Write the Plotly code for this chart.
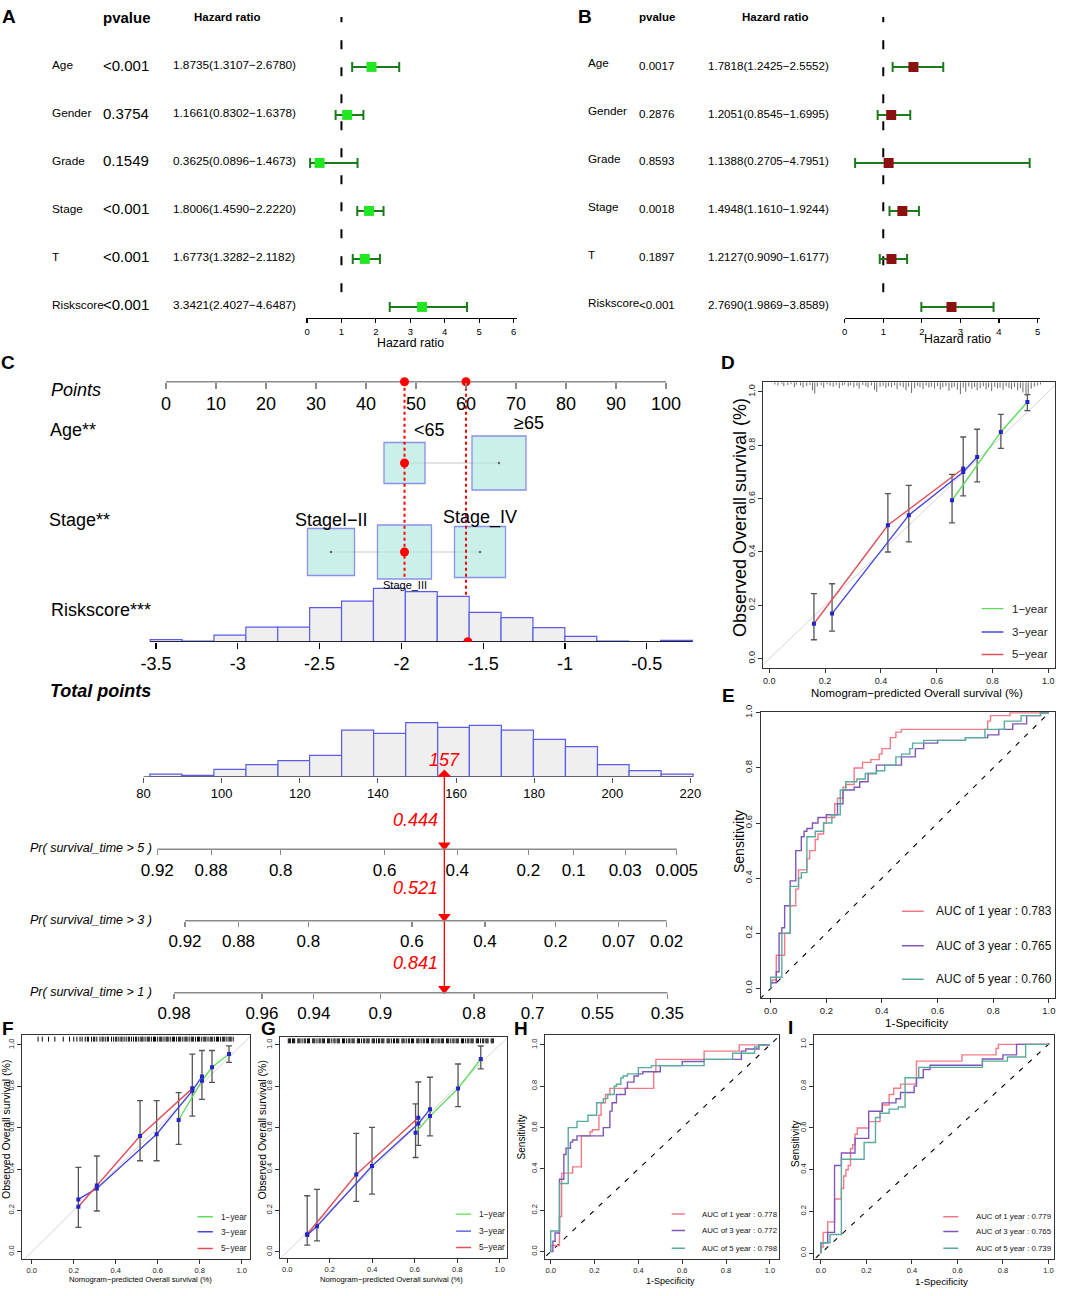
import plotly.graph_objects as go

W, H = 1065, 1296
REG = "Liberation Sans, Arial, Helvetica, sans-serif"

# ---------------- A / B : Cox regression ----------------
cox_vars = ["Age", "Gender", "Grade", "Stage", "T", "Riskscore"]
uni_p = ["<0.001", "0.3754", "0.1549", "<0.001", "<0.001", "<0.001"]
uni_hr = [1.8735, 1.1661, 0.3625, 1.8006, 1.6773, 3.3421]
uni_lo = [1.3107, 0.8302, 0.0896, 1.4590, 1.3282, 2.4027]
uni_hi = [2.6780, 1.6378, 1.4673, 2.2220, 2.1182, 4.6487]
multi_p = ["0.0017", "0.2876", "0.8593", "0.0018", "0.1897", "<0.001"]
multi_hr = [1.7818, 1.2051, 1.1388, 1.4948, 1.2127, 2.7690]
multi_lo = [1.2425, 0.8545, 0.2705, 1.1610, 0.9090, 1.9869]
multi_hi = [2.5552, 1.6995, 4.7951, 1.9244, 1.6177, 3.8589]

# ---------------- C : nomogram ----------------
points_ticks = [0, 10, 20, 30, 40, 50, 60, 70, 80, 90, 100]
age_levels = ["<65", "≥65"]
age_points = [47.7, 66.6]
age_box = [41, 54]
stage_levels = ["StageI−II", "Stage_III", "Stage_IV"]
stage_points = [33.0, 47.7, 62.8]
stage_box = [47, 54, 51]
risk_ticks = [-3.5, -3, -2.5, -2, -1.5, -1, -0.5]
risk_tick_text = ["-3.5", "-3", "-2.5", "-2", "-1.5", "-1", "-0.5"]
risk_edges = [-3.536, -3.341, -3.146, -2.951, -2.756, -2.561, -2.366, -2.171, -1.976,
              -1.781, -1.586, -1.391, -1.196, -1.001, -0.806, -0.611, -0.416, -0.221]
risk_counts = [3, 1, 10, 22, 22, 51, 61, 80, 75, 68, 44, 36, 21, 8, 1, 0, 2]
total_ticks = [80, 100, 120, 140, 160, 180, 200, 220]
total_edges = [81.6, 89.8, 98.0, 106.2, 114.4, 122.5, 130.7, 138.9, 147.1,
               155.3, 163.4, 171.6, 179.8, 188.0, 196.2, 204.3, 212.5, 220.7]
total_counts = [4, 2, 11, 18, 24, 32, 70, 65, 81, 74, 77, 70, 56, 45, 18, 9, 4]
pr5_labels = ["0.92", "0.88", "0.8", "0.6", "0.4", "0.2", "0.1", "0.03", "0.005"]
pr5_points = [83.5, 97.3, 115.1, 141.7, 160.3, 178.5, 190.1, 203.3, 216.5]
pr3_labels = ["0.92", "0.88", "0.8", "0.6", "0.4", "0.2", "0.07", "0.02"]
pr3_points = [90.6, 104.3, 122.2, 148.7, 167.4, 185.5, 201.6, 213.9]
pr1_labels = ["0.98", "0.96", "0.94", "0.9", "0.8", "0.7", "0.55", "0.35"]
pr1_points = [87.8, 110.3, 123.6, 140.6, 164.6, 179.6, 196.2, 214.1]
pr_titles = ["Pr( survival_time > 5 )", "Pr( survival_time > 3 )", "Pr( survival_time > 1 )"]
sel_age, sel_stage = 0, 1
sel_risk = -1.594
sel_risk_points = 60
sel_total = 157
sel_probs = ["0.444", "0.521", "0.841"]

# ---------------- D / F / G : calibration ----------------
d_err_x = [0.16, 0.225, 0.425, 0.50, 0.655, 0.695, 0.745, 0.83, 0.925]
d_err_lo = [0.071, 0.103, 0.40, 0.438, 0.509, 0.61, 0.663, 0.788, 0.93]
d_err_hi = [0.244, 0.281, 0.619, 0.65, 0.691, 0.831, 0.86, 0.916, 0.99]
d_1y_x = [0.655, 0.83, 0.925]
d_1y_y = [0.594, 0.85, 0.962]
d_3y_x = [0.225, 0.50, 0.695, 0.745]
d_3y_y = [0.169, 0.538, 0.70, 0.756]
d_5y_x = [0.16, 0.425, 0.695]
d_5y_y = [0.131, 0.50, 0.713]
d_rug_x = [0.02, 0.031, 0.045, 0.052, 0.066, 0.078, 0.09, 0.097, 0.112, 0.121,
           0.134, 0.146, 0.155, 0.163, 0.172, 0.186, 0.195, 0.207, 0.218, 0.229,
           0.24, 0.251, 0.262, 0.27, 0.283, 0.291, 0.303, 0.314, 0.322, 0.335,
           0.346, 0.354, 0.366, 0.377, 0.385, 0.397, 0.408, 0.418, 0.427, 0.438,
           0.449, 0.458, 0.469, 0.48, 0.49, 0.499, 0.51, 0.521, 0.531, 0.54,
           0.551, 0.562, 0.572, 0.581, 0.592, 0.603, 0.613, 0.622, 0.633, 0.644,
           0.654, 0.663, 0.674, 0.685, 0.695, 0.704, 0.715, 0.726, 0.736, 0.745,
           0.756, 0.767, 0.777, 0.786, 0.797, 0.808, 0.818, 0.827, 0.838, 0.849,
           0.859, 0.868, 0.879, 0.89, 0.9, 0.909, 0.92, 0.928, 0.939, 0.95,
           0.961, 0.972]
d_rug_len = [0.008, 0.012, 0.006, 0.015, 0.010, 0.007, 0.018, 0.009, 0.012, 0.020,
             0.014, 0.010, 0.030, 0.042, 0.016, 0.011, 0.020, 0.008, 0.013, 0.017,
             0.010, 0.022, 0.012, 0.009, 0.016, 0.011, 0.019, 0.013, 0.024, 0.010,
             0.015, 0.020, 0.012, 0.028, 0.036, 0.017, 0.013, 0.021, 0.015, 0.018,
             0.012, 0.026, 0.014, 0.019, 0.030, 0.016, 0.040, 0.022, 0.013, 0.018,
             0.025, 0.012, 0.020, 0.016, 0.023, 0.014, 0.027, 0.019, 0.015, 0.032,
             0.021, 0.017, 0.028, 0.044, 0.020, 0.035, 0.016, 0.024, 0.018, 0.030,
             0.022, 0.015, 0.026, 0.019, 0.033, 0.017, 0.023, 0.020, 0.028, 0.015,
             0.021, 0.025, 0.018, 0.030, 0.022, 0.038, 0.050, 0.046, 0.024, 0.016,
             0.012, 0.008]

f_err_x = [0.222, 0.31, 0.516, 0.595, 0.70, 0.765, 0.811, 0.859, 0.94]
f_err_lo = [0.118, 0.197, 0.44, 0.44, 0.519, 0.656, 0.737, 0.819, 0.916]
f_err_hi = [0.408, 0.463, 0.731, 0.731, 0.769, 0.956, 0.973, 0.973, 0.995]
f_1y_x = [0.70, 0.811, 0.859, 0.94]
f_1y_y = [0.637, 0.827, 0.892, 0.956]
f_3y_x = [0.222, 0.31, 0.595, 0.765, 0.811]
f_3y_y = [0.253, 0.306, 0.568, 0.779, 0.847]
f_5y_x = [0.222, 0.31, 0.516, 0.765]
f_5y_y = [0.218, 0.32, 0.56, 0.79]
f_rug_x = [0.03, 0.05, 0.08, 0.11, 0.15, 0.18, 0.2, 0.215, 0.23, 0.24, 0.255, 0.265, 0.27, 0.285,
           0.295, 0.3, 0.31, 0.325, 0.335, 0.34, 0.35, 0.36, 0.365, 0.38, 0.39, 0.4, 0.405, 0.415,
           0.425, 0.43, 0.44, 0.45, 0.46, 0.465, 0.475, 0.485, 0.495, 0.5, 0.51, 0.52, 0.525,
           0.53, 0.54, 0.55, 0.555, 0.56, 0.57, 0.58, 0.585, 0.59, 0.6, 0.61, 0.615, 0.62, 0.63,
           0.64, 0.645, 0.65, 0.66, 0.67, 0.675, 0.68, 0.69, 0.7, 0.705, 0.71, 0.72, 0.73, 0.735,
           0.74, 0.75, 0.76, 0.765, 0.77, 0.78, 0.79, 0.795, 0.8, 0.81, 0.82, 0.825, 0.83, 0.84,
           0.85, 0.855, 0.86, 0.87, 0.88, 0.885, 0.89, 0.9, 0.91, 0.915, 0.92, 0.93, 0.94, 0.945,
           0.95, 0.96]

g_err_x = [0.094, 0.14, 0.325, 0.399, 0.604, 0.617, 0.672, 0.804, 0.911]
g_err_lo = [0.032, 0.053, 0.244, 0.279, 0.456, 0.515, 0.56, 0.702, 0.884]
g_err_hi = [0.271, 0.302, 0.573, 0.602, 0.715, 0.821, 0.844, 0.908, 0.995]
g_1y_x = [0.604, 0.672, 0.804, 0.911]
g_1y_y = [0.576, 0.656, 0.789, 0.932]
g_3y_x = [0.094, 0.14, 0.399, 0.617, 0.672]
g_3y_y = [0.081, 0.124, 0.415, 0.62, 0.689]
g_5y_x = [0.094, 0.325, 0.617]
g_5y_y = [0.085, 0.374, 0.648]
g_rug_x = [0.005, 0.01, 0.015, 0.025, 0.03, 0.035, 0.05, 0.055, 0.06, 0.07, 0.08, 0.085, 0.095,
           0.1, 0.105, 0.12, 0.125, 0.13, 0.14, 0.15, 0.155, 0.165, 0.17, 0.175, 0.19, 0.195,
           0.2, 0.21, 0.22, 0.225, 0.235, 0.24, 0.245, 0.26, 0.265, 0.27, 0.28, 0.29, 0.295,
           0.305, 0.31, 0.315, 0.33, 0.335, 0.34, 0.35, 0.36, 0.365, 0.375, 0.38, 0.385, 0.4,
           0.405, 0.41, 0.42, 0.43, 0.435, 0.445, 0.45, 0.455, 0.47, 0.475, 0.48, 0.49, 0.5,
           0.505, 0.515, 0.52, 0.525, 0.54, 0.545, 0.55, 0.56, 0.57, 0.575, 0.585, 0.59, 0.595,
           0.61, 0.615, 0.62, 0.63, 0.64, 0.645, 0.655, 0.66, 0.665, 0.68, 0.685, 0.69, 0.7,
           0.71, 0.715, 0.725, 0.73, 0.735, 0.75, 0.755, 0.76, 0.77, 0.78, 0.785, 0.795, 0.8,
           0.805, 0.82, 0.825, 0.83, 0.84, 0.85, 0.855, 0.865, 0.87, 0.875, 0.89, 0.895, 0.9,
           0.91, 0.92, 0.925, 0.935, 0.94, 0.945, 0.96, 0.965, 0.97]

# ---------------- E / H / I : time-dependent ROC ----------------
e_1y_x = [0, 0.005, 0.02, 0.02, 0.03, 0.05, 0.05, 0.07, 0.07, 0.09, 0.1, 0.11, 0.13, 0.14, 0.16, 0.17, 0.19, 0.2,
          0.23, 0.24, 0.26, 0.27, 0.3, 0.3, 0.33, 0.36, 0.39, 0.4, 0.43, 0.45, 0.47, 0.52, 0.78, 0.79, 0.86, 1.0]
e_1y_y = [0, 0.02, 0.03, 0.08, 0.12, 0.12, 0.2, 0.2, 0.27, 0.3, 0.36, 0.43, 0.43, 0.47, 0.5, 0.54, 0.56, 0.6,
          0.62, 0.67, 0.69, 0.73, 0.74, 0.78, 0.8, 0.82, 0.83, 0.85, 0.87, 0.91, 0.93, 0.94, 0.94, 0.97, 0.99, 1.0]
e_3y_x = [0, 0.02, 0.03, 0.04, 0.05, 0.05, 0.07, 0.07, 0.09, 0.09, 0.1, 0.11, 0.12, 0.13, 0.15, 0.17, 0.2, 0.24,
          0.26, 0.27, 0.3, 0.32, 0.35, 0.38, 0.4, 0.47, 0.52, 0.55, 0.6, 0.7, 0.78, 0.82, 0.87, 0.92, 0.97, 1.0]
e_3y_y = [0, 0.02, 0.06, 0.2, 0.22, 0.3, 0.3, 0.39, 0.39, 0.43, 0.5, 0.5, 0.55, 0.57, 0.58, 0.6, 0.62, 0.63,
          0.67, 0.72, 0.72, 0.73, 0.75, 0.78, 0.81, 0.81, 0.84, 0.87, 0.89, 0.9, 0.91, 0.92, 0.94, 0.96, 0.99, 1.0]
e_5y_x = [0, 0.0, 0.04, 0.04, 0.05, 0.07, 0.07, 0.1, 0.11, 0.13, 0.13, 0.16, 0.19, 0.22, 0.25, 0.27, 0.31,
          0.34, 0.38, 0.41, 0.45, 0.47, 0.5, 0.51, 0.55, 0.6, 0.7, 0.77, 0.77, 0.84, 0.9, 0.97, 1.0]
e_5y_y = [0, 0.02, 0.04, 0.14, 0.2, 0.2, 0.37, 0.37, 0.4, 0.42, 0.53, 0.55, 0.57, 0.6, 0.63, 0.72, 0.75,
          0.76, 0.78, 0.79, 0.81, 0.84, 0.85, 0.87, 0.89, 0.9, 0.9, 0.91, 0.94, 0.94, 0.97, 0.99, 1.0]
e_auc = ["0.783", "0.765", "0.760"]

h_1y_x = [0, 0.02, 0.04, 0.04, 0.05, 0.05, 0.06, 0.1, 0.1, 0.14, 0.14, 0.16, 0.18, 0.19, 0.22, 0.23, 0.25,
          0.27, 0.3, 0.47, 0.48, 0.52, 0.7, 0.71, 0.86, 0.87, 1.0]
h_1y_y = [0, 0.03, 0.03, 0.13, 0.17, 0.35, 0.38, 0.38, 0.41, 0.41, 0.52, 0.56, 0.56, 0.58, 0.59, 0.66, 0.72,
          0.76, 0.79, 0.79, 0.87, 0.93, 0.93, 0.97, 0.97, 1.0, 1.0]
h_3y_x = [0, 0.01, 0.02, 0.02, 0.04, 0.04, 0.06, 0.07, 0.09, 0.1, 0.12, 0.2, 0.24, 0.25, 0.27, 0.28, 0.3, 0.3,
          0.34, 0.35, 0.38, 0.4, 0.42, 0.5, 0.6, 0.7, 0.87, 0.89, 0.95, 1.0]
h_3y_y = [0, 0, 0.05, 0.09, 0.09, 0.35, 0.35, 0.47, 0.5, 0.53, 0.54, 0.56, 0.56, 0.6, 0.6, 0.68, 0.72, 0.76,
          0.76, 0.79, 0.82, 0.85, 0.86, 0.87, 0.9, 0.92, 0.93, 0.97, 0.98, 1.0]
h_5y_x = [0, 0, 0.04, 0.04, 0.08, 0.08, 0.12, 0.17, 0.21, 0.21, 0.24, 0.26, 0.29, 0.3, 0.32, 0.33, 0.35, 0.4,
          0.46, 0.52, 0.7, 0.71, 0.83, 0.86, 0.93, 0.95, 1.0]
h_5y_y = [0, 0.1, 0.1, 0.33, 0.33, 0.59, 0.6, 0.63, 0.66, 0.7, 0.72, 0.74, 0.76, 0.8, 0.81, 0.84, 0.85, 0.86,
          0.89, 0.9, 0.9, 0.93, 0.93, 0.96, 0.96, 0.99, 1.0]
h_auc = ["0.778", "0.772", "0.798"]

i_1y_x = [0, 0.01, 0.01, 0.03, 0.03, 0.04, 0.06, 0.06, 0.09, 0.1, 0.11, 0.12, 0.13, 0.14, 0.15, 0.16, 0.18,
          0.21, 0.22, 0.26, 0.27, 0.3, 0.32, 0.35, 0.37, 0.42, 0.44, 0.62, 0.63, 0.77, 0.78, 0.81, 1.0]
i_1y_y = [0, 0.03, 0.1, 0.1, 0.13, 0.15, 0.15, 0.26, 0.26, 0.31, 0.37, 0.4, 0.42, 0.5, 0.52, 0.57, 0.6,
          0.6, 0.63, 0.63, 0.68, 0.71, 0.76, 0.79, 0.81, 0.81, 0.92, 0.92, 0.95, 0.95, 0.98, 1.0, 1.0]
i_3y_x = [0, 0, 0.03, 0.03, 0.06, 0.06, 0.09, 0.09, 0.15, 0.15, 0.21, 0.21, 0.27, 0.28, 0.33, 0.35, 0.37,
          0.41, 0.42, 0.45, 0.48, 0.52, 0.71, 0.72, 0.8, 0.86, 0.88, 1.0]
i_3y_y = [0, 0.05, 0.05, 0.1, 0.1, 0.42, 0.42, 0.48, 0.48, 0.55, 0.55, 0.68, 0.68, 0.72, 0.72, 0.74, 0.77,
          0.77, 0.8, 0.84, 0.88, 0.9, 0.9, 0.93, 0.93, 0.95, 1.0, 1.0]
i_5y_x = [0, 0, 0.04, 0.04, 0.09, 0.1, 0.19, 0.19, 0.24, 0.24, 0.26, 0.3, 0.34, 0.37, 0.38, 0.43, 0.44,
          0.71, 0.72, 0.82, 0.82, 0.9, 0.9, 1.0]
i_5y_y = [0, 0.05, 0.05, 0.09, 0.09, 0.45, 0.45, 0.53, 0.53, 0.6, 0.65, 0.67, 0.69, 0.7, 0.84, 0.84, 0.89,
          0.89, 0.92, 0.92, 0.94, 0.94, 1.0, 1.0]
i_auc = ["0.779", "0.765", "0.739"]

unit_ticks = [0, 0.2, 0.4, 0.6, 0.8, 1.0]
unit_labels = ["0.0", "0.2", "0.4", "0.6", "0.8", "1.0"]
CAL_COLORS = ["#5fdc5f", "#4646dc", "#e0505a"]
CAL_NAMES = ["1−year", "3−year", "5−year"]
ROC_COLORS = ["#f27a86", "#7e57b8", "#5aab9e"]
ROC_YEARS = [1, 3, 5]


def px(v):
    return v / W


def py(v):
    return 1 - v / H


def esc(s):
    return s.replace("&", "&amp;").replace("<", "&lt;").replace(">", "&gt;")


fig = go.Figure()
layout = {}
notes = []
shapes = []


def ax(n):
    s = "" if n == 1 else str(n)
    return "x" + s, "y" + s, "xaxis" + s, "yaxis" + s


def note(x, y, text, size, color="black", xanchor="left", angle=0,
         xref="paper", yref="paper", xshift=0):
    notes.append(dict(x=x, y=y, xref=xref, yref=yref, text=text, showarrow=False,
                      xanchor=xanchor, yanchor="middle", textangle=angle, xshift=xshift,
                      font=dict(family=REG, size=size, color=color)))


def line(xa, ya, x, y, color, width=1.0, dash=None, shape="linear"):
    fig.add_trace(go.Scatter(x=x, y=y, mode="lines", xaxis=xa, yaxis=ya,
                             line=dict(color=color, width=width, dash=dash, shape=shape)))


# ---------------- forest plots ----------------
def forest(n, hr, lo, hi, pv, sq, x_px, x_rng, ticks, cols, st, lab_dy, title_at):
    xa, ya, kx, ky = ax(n)
    rows = list(range(1, len(hr) + 1))
    layout[kx] = dict(domain=[px(x_px[0]), px(x_px[1])], range=x_rng, anchor="free",
                      position=py(317.7), showline=True, linecolor="black", linewidth=1.5,
                      ticks="outside", ticklen=4, tickwidth=1.2, tickcolor="black",
                      tickvals=ticks, tickfont=dict(family=REG, size=9.5, color="black"),
                      showgrid=False, zeroline=False)
    layout[ky] = dict(domain=[py(337), py(17)], range=[6.667, 0], anchor=xa, visible=False)
    line(xa, ya, [1, 1], [-0.08, 6.1], "black", 2, "9px,18px")
    fig.add_trace(go.Scatter(
        x=hr, y=[r + 0.04 for r in rows], mode="markers", xaxis=xa, yaxis=ya,
        marker=dict(symbol="square", size=10, color=sq),
        error_x=dict(type="data", symmetric=False,
                     array=[h - m for h, m in zip(hi, hr)],
                     arrayminus=[m - l for m, l in zip(hr, lo)],
                     color="#1b7a1b", thickness=2, width=5)))
    note(px(cols["hpv"]), 0, "<b>pvalue</b>", st["hpv"], yref=ya)
    note(px(cols["hhr"]), 0, "<b>Hazard ratio</b>", 11.5, yref=ya)
    for r, name, p, m, l, h in zip(rows, cox_vars, pv, hr, lo, hi):
        note(px(cols["lab"]), r - lab_dy, name, st["lab"], yref=ya)
        note(px(cols["pv"]), r, esc(p), st["pv"], yref=ya)
        note(px(cols["hr"]), r, f"{m:.4f}({l:.4f}−{h:.4f})", st["hr"], yref=ya)
    note(px(title_at[0]), py(title_at[1]), "Hazard ratio", 12.3, xanchor="center")


forest(1, uni_hr, uni_lo, uni_hi, uni_p, "#22e622", [306, 517], [-0.03, 6.1],
       [0, 1, 2, 3, 4, 5, 6],
       dict(lab=50, pv=101.5, hr=171, hpv=101, hhr=192),
       dict(lab=11.8, pv=15, hr=11.8, hpv=15), 0, (410, 343))
forest(2, multi_hr, multi_lo, multi_hi, multi_p, "#8b1010", [844.7, 1039.5], [0, 5.05],
       [0, 1, 2, 3, 4, 5],
       dict(lab=586, pv=637, hr=706, hpv=637, hhr=740),
       dict(lab=11.7, pv=11.6, hr=11.6, hpv=11.5), 0.06, (957, 339))

# ---------------- C : nomogram ----------------
P_ROW, AGE_ROW, STAGE_ROW, RISK_ROW, TOT_ROW = 381.7, 463, 552, 641.7, 776.7
PR_ROWS = [849.3, 920.7, 992.7]
C_X = [px(140), px(700)]
TOT_RANGE = [79.08, 222.45]
BOX_FILL, BOX_EDGE = "#b4ebe1", "#5b62e0"
BAR_FILL, BAR_EDGE = "#efefef", "#5b5bea"

layout["yaxis3"] = dict(domain=[py(1015), py(365)], range=[1015, 365], anchor="x3", visible=False)
layout["xaxis3"] = dict(domain=C_X, range=[-5.2, 106.8], anchor="free", position=py(P_ROW),
                        showline=False, showgrid=False, zeroline=False, ticks="outside",
                        ticklen=6, tickwidth=1.2, tickcolor="#8a8a8a", tickvals=points_ticks,
                        tickfont=dict(family=REG, size=18, color="black"))
layout["xaxis4"] = dict(domain=C_X, range=[-3.598, -0.175], anchor="free", position=py(RISK_ROW),
                        showline=False, showgrid=False, zeroline=False, ticks="outside",
                        ticklen=6, tickwidth=1.2, tickcolor="black", tickvals=risk_ticks,
                        ticktext=risk_tick_text, tickfont=dict(family=REG, size=18, color="black"))
layout["yaxis4"] = dict(domain=[py(RISK_ROW), py(RISK_ROW - 60)], range=[0, 90], anchor="x4",
                        visible=False)
layout["xaxis5"] = dict(domain=C_X, range=TOT_RANGE, anchor="free", position=py(TOT_ROW),
                        showline=False, showgrid=False, zeroline=False, ticks="outside",
                        ticklen=5, tickwidth=1, tickcolor="#555", tickvals=total_ticks,
                        tickfont=dict(family=REG, size=13, color="black"))
layout["yaxis5"] = dict(domain=[py(TOT_ROW), py(TOT_ROW - 60)], range=[0, 90], anchor="x5",
                        visible=False)
for k, (row, pts, labs) in enumerate(zip(PR_ROWS, [pr5_points, pr3_points, pr1_points],
                                         [pr5_labels, pr3_labels, pr1_labels])):
    layout[f"xaxis{6 + k}"] = dict(domain=C_X, range=TOT_RANGE, anchor="free", position=py(row),
                                   showline=False, showgrid=False, zeroline=False,
                                   ticks="outside", ticklen=5, tickwidth=1.2,
                                   tickcolor="#8a8a8a", tickvals=pts, ticktext=labs,
                                   tickfont=dict(family=REG, size=17, color="black"))

# points scale
line("x3", "y3", [points_ticks[0], points_ticks[-1]], [P_ROW, P_ROW], "#8a8a8a", 1.5)
# age
line("x3", "y3", [age_points[0], age_points[-1]], [AGE_ROW] * 2, "#c8c8c8", 1.2)
fig.add_trace(go.Scatter(x=age_points, y=[AGE_ROW] * len(age_points), mode="markers", xaxis="x3",
                         yaxis="y3", marker=dict(symbol="square", size=age_box, color=BOX_FILL,
                                                 line=dict(color=BOX_EDGE, width=1.3))))
fig.add_trace(go.Scatter(x=age_points, y=[AGE_ROW] * len(age_points), mode="markers", xaxis="x3",
                         yaxis="y3", marker=dict(size=2.5, color="#666")))
# stage
line("x3", "y3", [stage_points[0], stage_points[-1]], [STAGE_ROW] * 2, "#c8c8c8", 1.2)
fig.add_trace(go.Scatter(x=stage_points, y=[STAGE_ROW] * len(stage_points), mode="markers",
                         xaxis="x3", yaxis="y3",
                         marker=dict(symbol="square", size=stage_box, color=BOX_FILL,
                                     line=dict(color=BOX_EDGE, width=1.3))))
fig.add_trace(go.Scatter(x=stage_points, y=[STAGE_ROW] * len(stage_points), mode="markers",
                         xaxis="x3", yaxis="y3", marker=dict(size=2.5, color="#666")))
# riskscore histogram
fig.add_trace(go.Bar(x=[(a + b) / 2 for a, b in zip(risk_edges[:-1], risk_edges[1:])],
                     y=risk_counts, width=[b - a for a, b in zip(risk_edges[:-1], risk_edges[1:])],
                     marker=dict(color=BAR_FILL, line=dict(color=BAR_EDGE, width=1.2)),
                     xaxis="x4", yaxis="y4"))
line("x4", "y4", [risk_edges[0], risk_edges[-1]], [0, 0], "black", 1.3)
# total points histogram
fig.add_trace(go.Bar(x=[(a + b) / 2 for a, b in zip(total_edges[:-1], total_edges[1:])],
                     y=total_counts,
                     width=[b - a for a, b in zip(total_edges[:-1], total_edges[1:])],
                     marker=dict(color=BAR_FILL, line=dict(color=BAR_EDGE, width=1.2)),
                     xaxis="x5", yaxis="y5"))
line("x5", "y5", [total_ticks[0], total_edges[-1]], [0, 0], "#555", 1.2)
# probability scales
for k, (row, pts) in enumerate(zip(PR_ROWS, [pr5_points, pr3_points, pr1_points])):
    line(f"x{6 + k}", "y3", [pts[0], pts[-1]], [row, row], "#8a8a8a", 1.5)

# selected patient
RED = "#ff0000"
line("x3", "y3", [age_points[sel_age]] * 2, [P_ROW, STAGE_ROW + stage_box[sel_stage] / 2],
     RED, 2, "dot")
line("x3", "y3", [sel_risk_points] * 2, [P_ROW, RISK_ROW], RED, 2, "dot")
fig.add_trace(go.Scatter(x=[age_points[sel_age], sel_risk_points, age_points[sel_age],
                            stage_points[sel_stage]],
                         y=[P_ROW, P_ROW, AGE_ROW, STAGE_ROW], mode="markers", xaxis="x3",
                         yaxis="y3", marker=dict(size=9, color=RED)))
fig.add_trace(go.Scatter(x=[sel_risk], y=[0], mode="markers", xaxis="x4", yaxis="y4",
                         marker=dict(size=9, color=RED)))
line("x5", "y3", [sel_total, sel_total], [TOT_ROW, PR_ROWS[-1] - 2], RED, 1.3)
fig.add_trace(go.Scatter(x=[sel_total] * 3, y=[r - 4 for r in PR_ROWS], mode="markers",
                         xaxis="x5", yaxis="y3",
                         marker=dict(symbol="triangle-down", size=11, color=RED)))
fig.add_trace(go.Scatter(x=[sel_total], y=[0], mode="markers", xaxis="x5", yaxis="y5",
                         marker=dict(symbol="diamond", size=11, color=RED)))
note(sel_total, 760, f"<i>{sel_total}</i>", 18, RED, "center", xref="x5", yref="y3")
for yy, p in zip([820, 888.3, 963.3], sel_probs):
    note(sel_total, yy, f"<i>{p}</i>", 18, RED, "right", xref="x5", yref="y3", xshift=-4)

note(age_points[0], 430, esc(age_levels[0]), 18, xref="x3", yref="y3", xshift=7)
note(age_points[1], 423.3, age_levels[1], 18, xref="x3", yref="y3", xshift=13)
note(stage_points[0], 520, stage_levels[0], 18, xanchor="center", xref="x3", yref="y3")
note(stage_points[1], 585, stage_levels[1], 11, xanchor="center", xref="x3", yref="y3")
note(stage_points[2], 517, stage_levels[2], 18, xanchor="center", xref="x3", yref="y3")

note(px(49), py(390), "<i>Points</i>", 18)
note(px(48), py(430), "Age**", 18)
note(px(47), py(520), "Stage**", 18)
note(px(49), py(610), "Riskscore***", 18)
note(px(48), py(690.7), "<b><i>Total points</i></b>", 18)
for row, t in zip(PR_ROWS, pr_titles):
    note(px(28), py(row - 1), f"<i>{esc(t)}</i>", 12.5)


# ---------------- framed panels ----------------
def frame(n, xd, yd, xr, yr, tsize):
    xa, ya, kx, ky = ax(n)
    common = dict(showline=True, mirror=True, linecolor="#333", linewidth=1, ticks="outside",
                  ticklen=4, tickwidth=1, tickcolor="#333", tickvals=unit_ticks,
                  ticktext=unit_labels, showgrid=False, zeroline=False,
                  tickfont=dict(family=REG, size=tsize, color="#222"))
    layout[kx] = dict(domain=[px(xd[0]), px(xd[1])], range=xr, anchor=ya, **common)
    layout[ky] = dict(domain=[py(yd[0]), py(yd[1])], range=yr, anchor=xa, tickangle=-90, **common)


def calib(n, curves, err, rug_x, rug_len, rug_top, rug_color, leg_x, leg_y, leg_tx, leg_size):
    xa, ya, _, _ = ax(n)
    line(xa, ya, [-0.1, 1.1], [-0.1, 1.1], "#d4d4d4", 1)
    rx, ry = [], []
    for x, l in zip(rug_x, rug_len):
        rx += [x, x, None]
        ry += [rug_top, rug_top - l, None]
    line(xa, ya, rx, ry, rug_color, 1)
    ex, elo, ehi = err
    fig.add_trace(go.Scatter(
        x=ex, y=elo, mode="markers", xaxis=xa, yaxis=ya,
        marker=dict(size=2, color="rgba(0,0,0,0)"),
        error_y=dict(type="data", symmetric=False, array=[h - l for l, h in zip(elo, ehi)],
                     arrayminus=[0] * len(ex), color="#555555", thickness=1.3, width=3)))
    for (cx, cy), col in zip(curves, CAL_COLORS):
        fig.add_trace(go.Scatter(x=cx, y=cy, mode="lines+markers", xaxis=xa, yaxis=ya,
                                 line=dict(color=col, width=1.4),
                                 marker=dict(symbol="square", size=4, color="#2424c8")))
    for yy, col, name in zip(leg_y, CAL_COLORS, CAL_NAMES):
        shapes.append(dict(type="line", xref=xa, yref=ya, x0=leg_x[0], x1=leg_x[1], y0=yy,
                           y1=yy, line=dict(color=col, width=1.4)))
        note(leg_tx, yy, name, leg_size, "#222", xref=xa, yref=ya)


def roc(n, curves, aucs, leg_x, leg_y, leg_tx, leg_size):
    xa, ya, _, _ = ax(n)
    line(xa, ya, [-0.1, 1.1], [-0.1, 1.1], "black", 1.1, "5px,7px")
    for (cx, cy), col in zip(curves, ROC_COLORS):
        line(xa, ya, cx, cy, col, 1.4, shape="vh")
    for yy, col, yr, a in zip(leg_y, ROC_COLORS, ROC_YEARS, aucs):
        shapes.append(dict(type="line", xref=xa, yref=ya, x0=leg_x[0], x1=leg_x[1], y0=yy,
                           y1=yy, line=dict(color=col, width=1.5)))
        note(leg_tx, yy, f"AUC of {yr} year : {a}", leg_size, "#111", xref=xa, yref=ya)


NOMO_X = "Nomogram−predicted Overall survival (%)"
OBS_Y = "Observed Overall survival (%)"

# D
frame(9, [763.3, 1055], [668.3, 382.3], [-0.0215, 1.024], [-0.036, 1.036], 9)
calib(9, [(d_1y_x, d_1y_y), (d_3y_x, d_3y_y), (d_5y_x, d_5y_y)], (d_err_x, d_err_lo, d_err_hi),
      d_rug_x, d_rug_len, 1.036, "#6a6a6a", [0.761, 0.839], [0.1875, 0.10, 0.016], 0.863, 11.5)
note(px(916.7), py(693), NOMO_X, 11.4, xanchor="center")
note(px(740), py(518), OBS_Y, 18, xanchor="center", angle=-90)

# E
frame(10, [760.7, 1055], [997.7, 712], [-0.036, 1.022], [-0.034, 1.003], 9.5)
roc(10, [(e_1y_x, e_1y_y), (e_3y_x, e_3y_y), (e_5y_x, e_5y_y)], e_auc, [0.472, 0.55],
    [0.28, 0.155, 0.033], 0.586, 12)
note(px(916.7), py(1022.7), "1-Specificity", 11.7, xanchor="center")
note(px(738.3), py(841.7), "Sensitivity", 14, xanchor="center", angle=-90)

# F
frame(11, [21.7, 250], [1259, 1035], [-0.048, 1.04], [-0.035, 1.048], 7.5)
calib(11, [(f_1y_x, f_1y_y), (f_3y_x, f_3y_y), (f_5y_x, f_5y_y)], (f_err_x, f_err_lo, f_err_hi),
      f_rug_x, [0.024] * len(f_rug_x), 1.04, "black", [0.79, 0.863], [0.169, 0.097, 0.016],
      0.89, 8.3)
note(px(140), py(1279.3), NOMO_X, 7.7, xanchor="center")
note(px(6), py(1130), OBS_Y, 10.5, xanchor="center", angle=-90)

# G
frame(12, [280, 506.7], [1258, 1036.7], [-0.034, 1.033], [-0.030, 1.040], 7.5)
calib(12, [(g_1y_x, g_1y_y), (g_3y_x, g_3y_y), (g_5y_x, g_5y_y)], (g_err_x, g_err_lo, g_err_hi),
      g_rug_x, [0.024] * len(g_rug_x), 1.032, "black", [0.795, 0.865], [0.182, 0.10, 0.021],
      0.895, 8.4)
note(px(391.7), py(1279.3), NOMO_X, 7.7, xanchor="center")
note(px(261.5), py(1130), OBS_Y, 10.5, xanchor="center", angle=-90)

# H
frame(13, [545, 779.3], [1259.3, 1035], [-0.026, 1.043], [-0.037, 1.048], 7.5)
roc(13, [(h_1y_x, h_1y_y), (h_3y_x, h_3y_y), (h_5y_x, h_5y_y)], h_auc, [0.552, 0.613],
    [0.182, 0.102, 0.016], 0.681, 7.8)
note(px(670), py(1280.7), "1-Specificity", 9, xanchor="center")
note(px(521.7), py(1136.7), "Sensitivity", 10, xanchor="center", angle=-90)

# I
frame(14, [814.3, 1054.3], [1259.3, 1035], [-0.029, 1.026], [-0.029, 1.045], 7.5)
roc(14, [(i_1y_x, i_1y_y), (i_3y_x, i_3y_y), (i_5y_x, i_5y_y)], i_auc, [0.538, 0.604],
    [0.175, 0.104, 0.024], 0.674, 7.8)
note(px(941.7), py(1281.7), "1-Specificity", 9.8, xanchor="center")
note(px(795), py(1143.3), "Sensitivity", 10.4, xanchor="center", angle=-90)

# panel letters
for letter, (lx, ly) in zip("ABCDEFGHI", [(8.6, 16.7), (584.5, 16.7), (8, 362), (728, 362),
                                          (728, 695), (8.4, 1028), (268, 1028), (520.5, 1028),
                                          (790, 1027)]):
    note(px(lx), py(ly), f"<b>{letter}</b>", 19, xanchor="center")

fig.update_layout(**layout)
fig.update_layout(width=W, height=H,
                  margin=dict(l=0, r=0, t=0, b=0, pad=0, autoexpand=False),
                  showlegend=False, paper_bgcolor="white", plot_bgcolor="rgba(0,0,0,0)",
                  hovermode=False, annotations=notes, shapes=shapes, bargap=0)
# the page body has a default 8px margin; drop it so the figure sits at the window origin
fig.write_html("out.html", config=dict(displayModeBar=False, staticPlot=True),
               post_script="document.body.style.margin='0';document.body.style.overflow='hidden';")
